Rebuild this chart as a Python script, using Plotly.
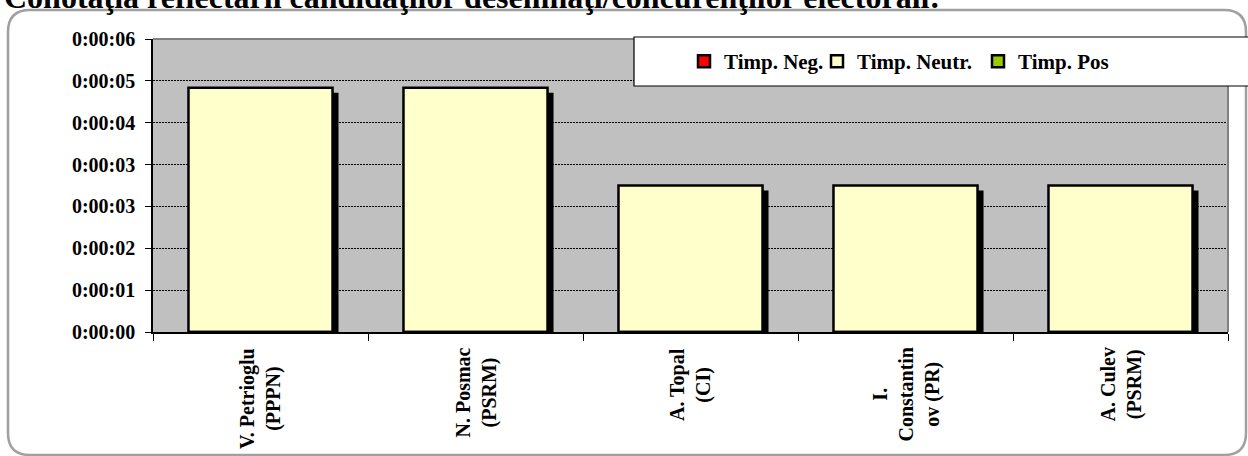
import plotly.graph_objects as go

# ---------------- data ----------------
categories = ["V. Petrioglu<br>(PPPN)", "N. Posmac<br>(PSRM)", "A. Topal<br>(CI)",
              "I.<br>Constantin<br>ov (PR)", "A. Culev<br>(PSRM)"]
neg_seconds = [0, 0, 0, 0, 0]
neutr_seconds = [5, 5, 3, 3, 3]
pos_seconds = [0, 0, 0, 0, 0]
y_max_seconds = 6
y_tick_labels = ["0:00:00", "0:00:01", "0:00:02", "0:00:03", "0:00:03",
                 "0:00:04", "0:00:05", "0:00:06"]
title_text = "Conotaţia reflectării candidaţilor desemnaţi/concurenţilor electorali:"

# ---------------- layout geometry (pixels) ----------------
W, H = 1248, 456
L, R, T, B = 153, 20, 39, 124
PW, PH = W - L - R, H - T - B

def px(x):
    return (x - L) / PW

def py(y):
    return (H - B - y) / PH

FONT = "Liberation Serif, Times New Roman, serif"
BAR_W = 0.67
SHADOW_DX = 6 / PW * len(categories)          # category units
SHADOW_DY = 5 / PH * y_max_seconds            # seconds

tick_vals = [i * y_max_seconds / (len(y_tick_labels) - 1) for i in range(len(y_tick_labels))]

fig = go.Figure()
# shadow
fig.add_trace(go.Bar(
    x=categories, y=[v - SHADOW_DY for v in neutr_seconds],
    width=BAR_W, offset=-BAR_W / 2 + SHADOW_DX,
    marker=dict(color="black", line=dict(width=0)),
    showlegend=False, hoverinfo="skip"))
fig.add_trace(go.Bar(
    x=categories, y=neg_seconds, name="Timp. Neg.", width=BAR_W, legend="legend",
    marker=dict(color="#FF0000", line=dict(color="black", width=2.5))))
fig.add_trace(go.Bar(
    x=categories, y=neutr_seconds, name="Timp. Neutr.", width=BAR_W, legend="legend2",
    marker=dict(color="#FFFFCC", line=dict(color="black", width=2.5))))
fig.add_trace(go.Bar(
    x=categories, y=pos_seconds, name="Timp. Pos", width=BAR_W, legend="legend3",
    marker=dict(color="#99CC00", line=dict(color="black", width=2.5))))

# outer rounded frame
x0, x1, y0, y1, r = 8, 1246, 10, 455, 22
path = (f"M {px(x0)},{py(y0 + r)} Q {px(x0)},{py(y0)} {px(x0 + r)},{py(y0)} "
        f"L {px(x1 - r)},{py(y0)} Q {px(x1)},{py(y0)} {px(x1)},{py(y0 + r)} "
        f"L {px(x1)},{py(y1 - r)} Q {px(x1)},{py(y1)} {px(x1 - r)},{py(y1)} "
        f"L {px(x0 + r)},{py(y1)} Q {px(x0)},{py(y1)} {px(x0)},{py(y1 - r)} Z")
shapes = [
    dict(type="path", xref="paper", yref="paper", path=path,
         line=dict(color="#A0A0A0", width=2.5), layer="below"),
    dict(type="line", xref="paper", yref="paper", x0=0, x1=1, y0=1, y1=1,
         line=dict(color="#808080", width=2), layer="above"),
    dict(type="line", xref="paper", yref="paper", x0=1, x1=1, y0=0, y1=1,
         line=dict(color="#808080", width=2), layer="above"),
    dict(type="rect", xref="paper", yref="paper", x0=px(634), x1=px(1262),
         y0=py(86), y1=py(37), fillcolor="white",
         line=dict(color="black", width=1.2), layer="above"),
]

def leg(xpix):
    return dict(orientation="h", x=px(xpix), xanchor="left", y=py(61.5), yanchor="middle",
                bgcolor="rgba(0,0,0,0)", borderwidth=0,
                font=dict(family=FONT, size=21, weight="bold"), itemclick=False)

label_annotations = [
    dict(text=c, x=c, xref="x", yref="paper", y=py(346), xanchor="center", yanchor="top",
         textangle=-90, align="center", showarrow=False,
         font=dict(family=FONT, size=20, weight="bold"))
    for c in categories
]

fig.update_layout(
    width=W, height=H,
    margin=dict(l=L, r=R, t=T, b=B),
    paper_bgcolor="white", plot_bgcolor="#C0C0C0",
    barmode="overlay",
    font=dict(family=FONT, size=20, color="black", weight="bold"),
    shapes=shapes,
    showlegend=True,
    legend=leg(684), legend2=leg(817), legend3=leg(978),
    annotations=[dict(text=title_text, xref="paper", yref="paper",
                      x=px(2), y=py(-23), xanchor="left", yanchor="top",
                      showarrow=False,
                      font=dict(family=FONT, size=32, weight="bold"))] + label_annotations,
    xaxis=dict(type="category", tickson="boundaries", showticklabels=False,
               ticks="outside", ticklen=7, tickcolor="black", tickwidth=1,
               showline=True, linecolor="black", linewidth=1.5,
               showgrid=False, fixedrange=True),
    yaxis=dict(range=[0, y_max_seconds], tickvals=tick_vals, ticktext=y_tick_labels,
               ticks="outside", ticklen=6, tickcolor="black", tickwidth=1,
               showline=True, linecolor="black", linewidth=1.5,
               showgrid=True, gridcolor="black", gridwidth=1, griddash="2px,1px",
               zeroline=False, ticklabelstandoff=6, fixedrange=True,
               tickfont=dict(family=FONT, size=20, weight="bold")),
)

fig.write_html("out.html", config={"displayModeBar": False},
               post_script="document.body.style.margin='0';")
